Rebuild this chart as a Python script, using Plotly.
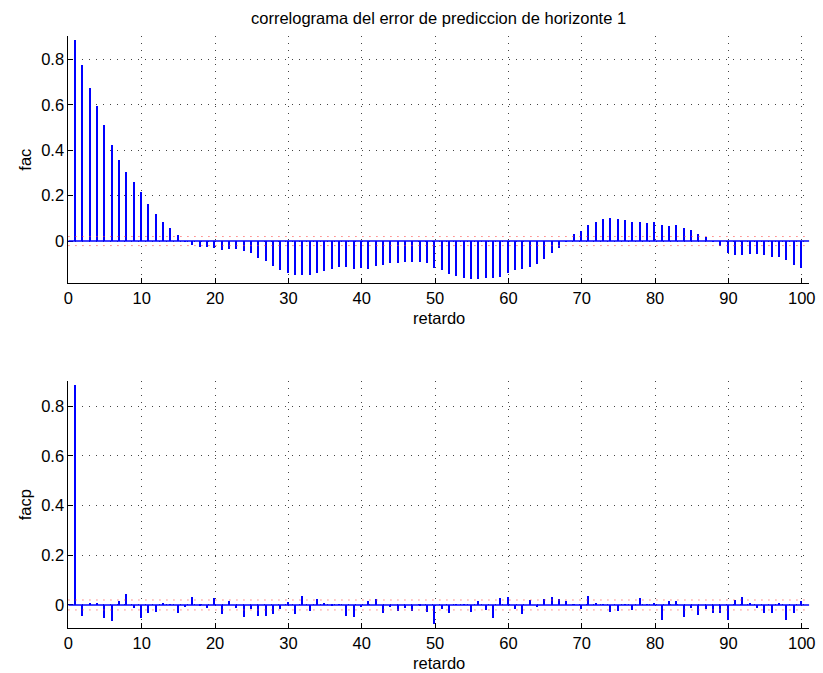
import plotly.graph_objects as go

lags = list(range(1, 101))

fac = [0.884, 0.774, 0.675, 0.593, 0.510, 0.425, 0.356, 0.305, 0.261, 0.214,
       0.164, 0.120, 0.084, 0.057, 0.025, -0.004, -0.016, -0.025, -0.028, -0.032,
       -0.040, -0.035, -0.035, -0.044, -0.053, -0.075, -0.088, -0.110, -0.127, -0.139,
       -0.149, -0.149, -0.149, -0.142, -0.132, -0.122, -0.116, -0.114, -0.125, -0.120,
       -0.123, -0.110, -0.105, -0.098, -0.095, -0.092, -0.091, -0.091, -0.095, -0.117,
       -0.127, -0.144, -0.154, -0.163, -0.167, -0.166, -0.163, -0.163, -0.160, -0.142,
       -0.129, -0.125, -0.113, -0.100, -0.081, -0.054, -0.029, -0.003, 0.029, 0.044,
       0.069, 0.086, 0.098, 0.101, 0.095, 0.091, 0.083, 0.084, 0.081, 0.084,
       0.072, 0.066, 0.069, 0.059, 0.047, 0.032, 0.016, -0.004, -0.022, -0.051,
       -0.062, -0.062, -0.056, -0.056, -0.063, -0.070, -0.070, -0.084, -0.105, -0.117]

facp = [0.884, -0.046, 0.008, 0.006, -0.054, -0.063, 0.014, 0.044, -0.012, -0.054,
        -0.034, -0.029, 0.006, 0.003, -0.032, -0.009, 0.034, -0.005, -0.012, 0.027,
        -0.037, 0.017, -0.012, -0.049, -0.018, -0.044, -0.043, -0.037, -0.016, 0.011,
        -0.037, 0.037, -0.026, 0.024, 0.008, -0.005, 0.003, -0.043, -0.049, -0.009,
        0.017, 0.024, -0.032, -0.009, -0.023, -0.012, -0.023, -0.003, -0.029, -0.077,
        -0.018, -0.034, 0.003, 0.002, -0.029, 0.015, -0.020, -0.052, 0.027, 0.034,
        -0.016, -0.037, 0.020, -0.009, 0.024, 0.034, 0.024, 0.015, 0.002, -0.016,
        0.038, 0.005, 0.002, -0.029, -0.024, 0.003, -0.020, 0.028, 0.002, 0.006,
        -0.059, 0.017, 0.017, -0.049, -0.012, -0.040, -0.016, -0.034, -0.034, -0.059,
        0.020, 0.031, 0.008, -0.012, -0.034, -0.034, 0.006, -0.059, -0.032, 0.017]

conf_band = 0.02
x_ticks = [0, 10, 20, 30, 40, 50, 60, 70, 80, 90, 100]
y_ticks = [0, 0.2, 0.4, 0.6, 0.8]
y_tick_labels = ["0", "0.2", "0.4", "0.6", "0.8"]

title_text = "correlograma del error de prediccion de horizonte 1"
xlabel = "retardo"
ylabels = ["fac", "facp"]

W, H = 823, 673
FONT = "Liberation Sans, Arial, Helvetica, sans-serif"
FS = 16.5
BLUE = "rgb(0,0,255)"

fig = go.Figure()
fig.add_trace(go.Bar(x=lags, y=fac, width=0.22, marker=dict(color=BLUE, line=dict(width=0)),
                     xaxis="x", yaxis="y", showlegend=False))
fig.add_trace(go.Bar(x=lags, y=facp, width=0.22, marker=dict(color=BLUE, line=dict(width=0)),
                     xaxis="x2", yaxis="y2", showlegend=False))

x_dom = [64.3 / W, 815 / W]
top_px = (36, 283.3)
bot_px = (381, 628.3)
top_dom = [1 - top_px[1] / H, 1 - top_px[0] / H]
bot_dom = [1 - bot_px[1] / H, 1 - bot_px[0] / H]

axis_common = dict(
    showline=True, linecolor="#000", linewidth=1, mirror=False,
    ticks="inside", ticklen=5, tickcolor="#000", tickwidth=1,
    showgrid=True, gridcolor="#444", gridwidth=1, griddash="1px,6px",
    zeroline=False, tickfont=dict(family=FONT, size=FS, color="#000"),
)

x_center = (x_dom[0] + x_dom[1]) / 2
annotations = [dict(text=title_text, xref="paper", yref="paper",
                    x=x_center, y=1 - 18 / H, xanchor="center", yanchor="middle",
                    showarrow=False, font=dict(family=FONT, size=FS, color="#000"))]
for bottom in (top_px[1], bot_px[1]):
    annotations.append(dict(text=xlabel, xref="paper", yref="paper",
                            x=x_center, y=1 - (bottom + 24) / H, xanchor="center", yanchor="top",
                            showarrow=False, font=dict(family=FONT, size=FS, color="#000")))

fig.update_layout(
    width=W, height=H, margin=dict(l=0, r=0, t=0, b=0),
    paper_bgcolor="white", plot_bgcolor="white", bargap=0,
    font=dict(family=FONT, size=FS, color="#000"),
    xaxis=dict(domain=x_dom, anchor="y", range=[0, 101], tickvals=x_ticks, **axis_common),
    yaxis=dict(domain=top_dom, anchor="x", range=[-0.186, 0.903], tickvals=y_ticks,
               ticktext=y_tick_labels, **axis_common,
               title=dict(text=ylabels[0], standoff=5, font=dict(size=FS))),
    xaxis2=dict(domain=x_dom, anchor="y2", range=[0, 101], tickvals=x_ticks, **axis_common),
    yaxis2=dict(domain=bot_dom, anchor="x2", range=[-0.094, 0.902], tickvals=y_ticks,
                ticktext=y_tick_labels, **axis_common,
                title=dict(text=ylabels[1], standoff=5, font=dict(size=FS))),
    annotations=annotations,
)

shapes = []
for xr, yr in (("x", "y"), ("x2", "y2")):
    for lvl in (conf_band, -conf_band):
        shapes.append(dict(type="line", xref=xr + " domain", yref=yr, x0=0, x1=1, y0=lvl, y1=lvl,
                           line=dict(color="#ff4040", width=1, dash="1px,6px"), layer="above"))
    shapes.append(dict(type="line", xref=xr + " domain", yref=yr, x0=0, x1=1, y0=0, y1=0,
                       line=dict(color=BLUE, width=1.6), layer="above"))
fig.update_layout(shapes=shapes)

fig.write_html("out.html")
